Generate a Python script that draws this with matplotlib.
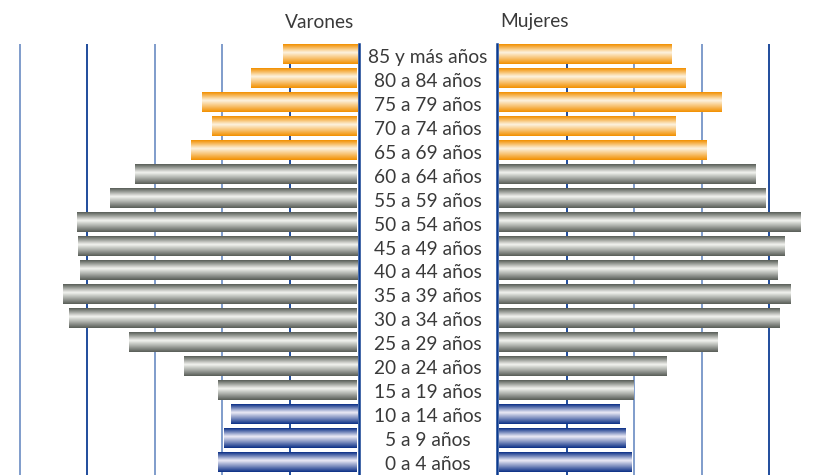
import numpy as np
import matplotlib
matplotlib.use('Agg')
import matplotlib.pyplot as plt
import matplotlib.transforms as mtransforms
from matplotlib.colors import LinearSegmentedColormap

# age groups, bottom to top
grupos = ["0 a 4 años", "5 a 9 años", "10 a 14 años", "15 a 19 años", "20 a 24 años",
          "25 a 29 años", "30 a 34 años", "35 a 39 años", "40 a 44 años", "45 a 49 años",
          "50 a 54 años", "55 a 59 años", "60 a 64 años", "65 a 69 años", "70 a 74 años",
          "75 a 79 años", "80 a 84 años", "85 y más años"]
varones = [2.06, 1.97, 1.87, 2.06, 2.57, 3.38, 4.27, 4.36, 4.11, 4.14,
           4.15, 3.66, 3.29, 2.46, 2.15, 2.30, 1.57, 1.10]
mujeres = [1.97, 1.87, 1.79, 1.99, 2.48, 3.23, 4.15, 4.32, 4.12, 4.23,
           4.47, 3.95, 3.80, 3.07, 2.61, 3.30, 2.76, 2.55]
tramo = ["joven"] * 3 + ["adulto"] * 10 + ["mayor"] * 5
grid_vals = [1, 2, 3, 4, 5]

# colour ramps: edge colour -> light centre -> edge colour
ramps = {
    "joven": ("#0b2f86", "#ecebf6"),
    "adulto": ("#585d57", "#f3f4f0"),
    "mayor": ("#f29000", "#fdf3e0"),
}
cmaps = {k: LinearSegmentedColormap.from_list(k, [(0, a), (0.58, b), (1, a)])
         for k, (a, b) in ramps.items()}
grad = np.linspace(0, 1, 64).reshape(-1, 1)

plt.rcParams['font.family'] = ['Lato', 'DejaVu Sans']

W, H = 834, 475
fig = plt.figure(figsize=(W / 100, H / 100), dpi=100)
top = 1 - 44 / H
axL = fig.add_axes([0, 0, 359 / W, top])
axR = fig.add_axes([497 / W, 0, 337 / W, top])

ys = np.arange(len(grupos))
navy = "#0b3a8f"
light_grid = "#7f9ccb"
dark_grid = "#1f4c9c"
grid_colors = {1: dark_grid, 2: light_grid, 3: light_grid, 4: dark_grid, 5: light_grid}


def draw_side(ax, values):
    for g in grid_vals:
        ax.axvline(g, color=grid_colors[g], lw=1.4, zorder=0)
    bars = ax.barh(ys, values, height=0.83, color="none", edgecolor="none", zorder=2)
    for bar, t in zip(bars, tramo):
        x0, y0 = bar.get_x(), bar.get_y()
        w, h = bar.get_width(), bar.get_height()
        im = ax.imshow(grad, cmap=cmaps[t], origin='lower', aspect='auto',
                       extent=[x0, x0 + w, y0, y0 + h], interpolation='bilinear', zorder=2)
        im.set_clip_path(bar)
    ax.set_ylim(-0.542, 17.417)
    ax.set_xticks([])
    ax.set_yticks([])
    for s in ax.spines.values():
        s.set_visible(False)


draw_side(axL, varones)
axL.set_xlim(357 / 67.4, -2 / 67.4)
axL.spines['right'].set_visible(True)
axL.spines['right'].set_color(navy)
axL.spines['right'].set_linewidth(1.8)

draw_side(axR, mujeres)
axR.set_xlim(-2 / 67.5, 335 / 67.5)
axR.spines['left'].set_visible(True)
axR.spines['left'].set_color(navy)
axR.spines['left'].set_linewidth(1.8)

# central labels, nudged a few pixels down like the original
trans = mtransforms.blended_transform_factory(fig.transFigure, axL.transData)
trans = trans + mtransforms.ScaledTranslation(0, -3 / 100, fig.dpi_scale_trans)
for y, lab in zip(ys, grupos):
    fig.text(428 / W, y, lab, transform=trans, ha='center', va='center',
             fontsize=13.8, color="#3a3a3a")

fig.text(320 / W, 1 - 22 / H, "Varones", ha='center', va='center', fontsize=13.8, color="#3a3a3a")
fig.text(535 / W, 1 - 22 / H, "Mujeres", ha='center', va='center', fontsize=13.8, color="#3a3a3a")

fig.savefig('out.png', dpi=100)
